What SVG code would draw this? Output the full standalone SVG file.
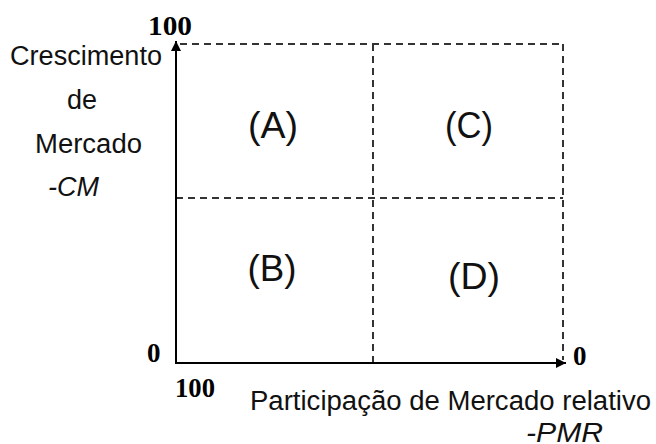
<svg xmlns="http://www.w3.org/2000/svg" width="656" height="444" viewBox="0 0 656 444">
<style>
.ax{stroke:#000;stroke-width:2;fill:none}
.ds{stroke:#333;stroke-width:2;stroke-dasharray:7 5;fill:none}
.num{font-family:"Liberation Serif",serif;font-weight:bold;font-size:27px;fill:#000}
.lab{font-family:"Liberation Sans",Arial,sans-serif;font-size:27px;fill:#111}
.it{font-style:italic}
.q{font-family:"Liberation Sans",Arial,sans-serif;font-size:36px;fill:#111;text-anchor:middle}
</style>
<defs>
<marker id="ah" viewBox="0 0 10 10" refX="10" refY="5" markerWidth="5" markerHeight="5" orient="auto" markerUnits="strokeWidth">
<path d="M0,0 L10,5 L0,10 z" fill="#000"/>
</marker>
</defs>
<g id="connectors">
<line class="ds" x1="180" y1="44" x2="563" y2="44"/>
<line class="ds" x1="563" y1="44" x2="563" y2="360"/>
<line class="ds" x1="373" y1="44" x2="373" y2="362"/>
<line class="ds" x1="176" y1="198" x2="563" y2="198"/>
<line id="yaxis" class="ax" x1="176" y1="363" x2="176" y2="41" marker-end="url(#ah)"/>
<line id="xaxis" class="ax" x1="175" y1="363" x2="566" y2="363" marker-end="url(#ah)"/>
</g>
<g id="qA"><text class="q" x="273" y="138" textLength="50" lengthAdjust="spacingAndGlyphs">(A)</text></g>
<g id="qC"><text class="q" x="469" y="138" textLength="48" lengthAdjust="spacingAndGlyphs">(C)</text></g>
<g id="qB"><text class="q" x="272" y="281" textLength="49" lengthAdjust="spacingAndGlyphs">(B)</text></g>
<g id="qD"><text class="q" x="474" y="289" textLength="52" lengthAdjust="spacingAndGlyphs">(D)</text></g>
<g id="ylabel">
<text class="lab" x="10" y="65" textLength="152" lengthAdjust="spacingAndGlyphs">Crescimento</text>
<text class="lab" x="82" y="109" text-anchor="middle">de</text>
<text class="lab" x="35" y="153" textLength="107" lengthAdjust="spacingAndGlyphs">Mercado</text>
<text class="lab it" x="48" y="196" font-size="30">-CM</text>
</g>
<g id="xlabel">
<text class="lab" x="250" y="410" textLength="401" lengthAdjust="spacingAndGlyphs">Participação de Mercado relativo</text>
<text class="lab it" x="526" y="442" font-size="28" textLength="77" lengthAdjust="spacingAndGlyphs">-PMR</text>
</g>
<g id="ticks">
<text class="num" x="148" y="35" textLength="44" lengthAdjust="spacingAndGlyphs">100</text>
<text class="num" x="147" y="362">0</text>
<text class="num" x="573" y="365">0</text>
<text class="num" x="175" y="397" textLength="40" lengthAdjust="spacingAndGlyphs">100</text>
</g>
</svg>
